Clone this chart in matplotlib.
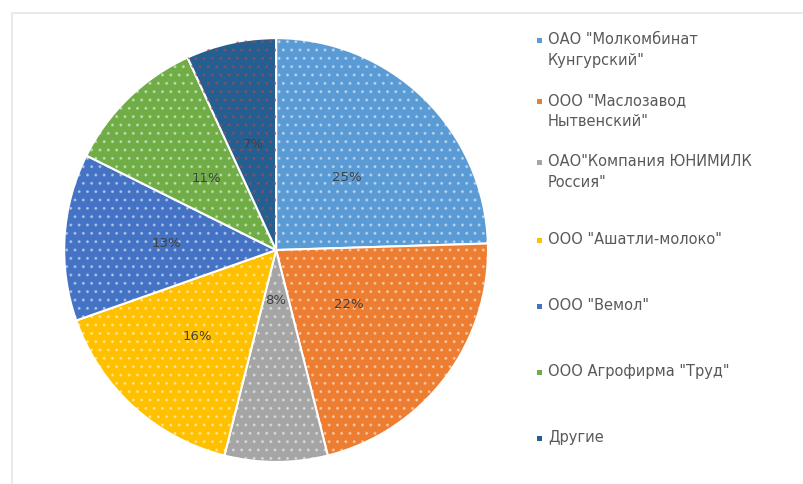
import matplotlib
matplotlib.use('Agg')
import matplotlib.pyplot as plt
from matplotlib.patches import Rectangle
import numpy as np

labels = ['ОАО "Молкомбинат\nКунгурский"', 'ООО "Маслозавод\nНытвенский"',
          'ОАО"Компания ЮНИМИЛК\nРоссия"', 'ООО "Ашатли-молоко"',
          'ООО "Вемол"', 'ООО Агрофирма "Труд"', 'Другие']
shares = [25, 22, 8, 16, 13, 11, 7]
pct_labels = ['25%', '22%', '8%', '16%', '13%', '11%', '7%']
colors = ['#5b9bd5', '#ed7d31', '#a5a5a5', '#ffc000', '#4472c4', '#70ad47', '#255e91']
dot_colors = [(1, 1, 1, 0.4)] * 6 + [(0.6, 0.3, 0.35, 0.6)]
# label distance from centre (fraction of radius), "best fit" like Excel
label_r = [0.48, 0.43, 0.24, 0.55, 0.52, 0.47, 0.51]

fig = plt.figure(figsize=(8.04, 4.84), dpi=100)
fig.patches.append(Rectangle((12.5 / 804, -0.1), 1.2, 471 / 484 + 0.1,
                             transform=fig.transFigure, fill=False,
                             edgecolor='#e6e6e6', linewidth=1.2))

ax = fig.add_axes([0.0784, 0.0434, 0.53, 0.88])
wedges, _ = ax.pie(shares, colors=colors, startangle=90, counterclock=False,
                   wedgeprops=dict(edgecolor='white', linewidth=1.5))
dots, _ = ax.pie(shares, startangle=90, counterclock=False,
                 wedgeprops=dict(fill=False, linewidth=0, hatch='..'))
for w, c in zip(dots, dot_colors):
    w.set_edgecolor(c)

total = sum(shares)
start = 90.0
for s, t, r in zip(shares, pct_labels, label_r):
    mid = np.deg2rad(start - 360.0 * s / total / 2)
    ax.text(r * np.cos(mid), r * np.sin(mid), t, ha='center', va='center',
            fontsize=9.5, color='#404040')
    start -= 360.0 * s / total
ax.set_xlim(-1.005, 1.005)
ax.set_ylim(-1.005, 1.005)
ax.set_aspect('equal')

# legend
for i, (lab, c) in enumerate(zip(labels, colors)):
    y = 40 + i * 61 if i < 3 else 240 + (i - 3) * 66
    fig.patches.append(Rectangle((537 / 804, 1 - (y + 3) / 484), 5 / 804, 5 / 484,
                                 transform=fig.transFigure, facecolor=c,
                                 edgecolor='none'))
    fig.text(548 / 804, 1 - (y - 8) / 484, lab, ha='left', va='top',
             fontsize=10.5, color='#595959', linespacing=1.5)

fig.savefig('out.png', dpi=100, facecolor='white')
